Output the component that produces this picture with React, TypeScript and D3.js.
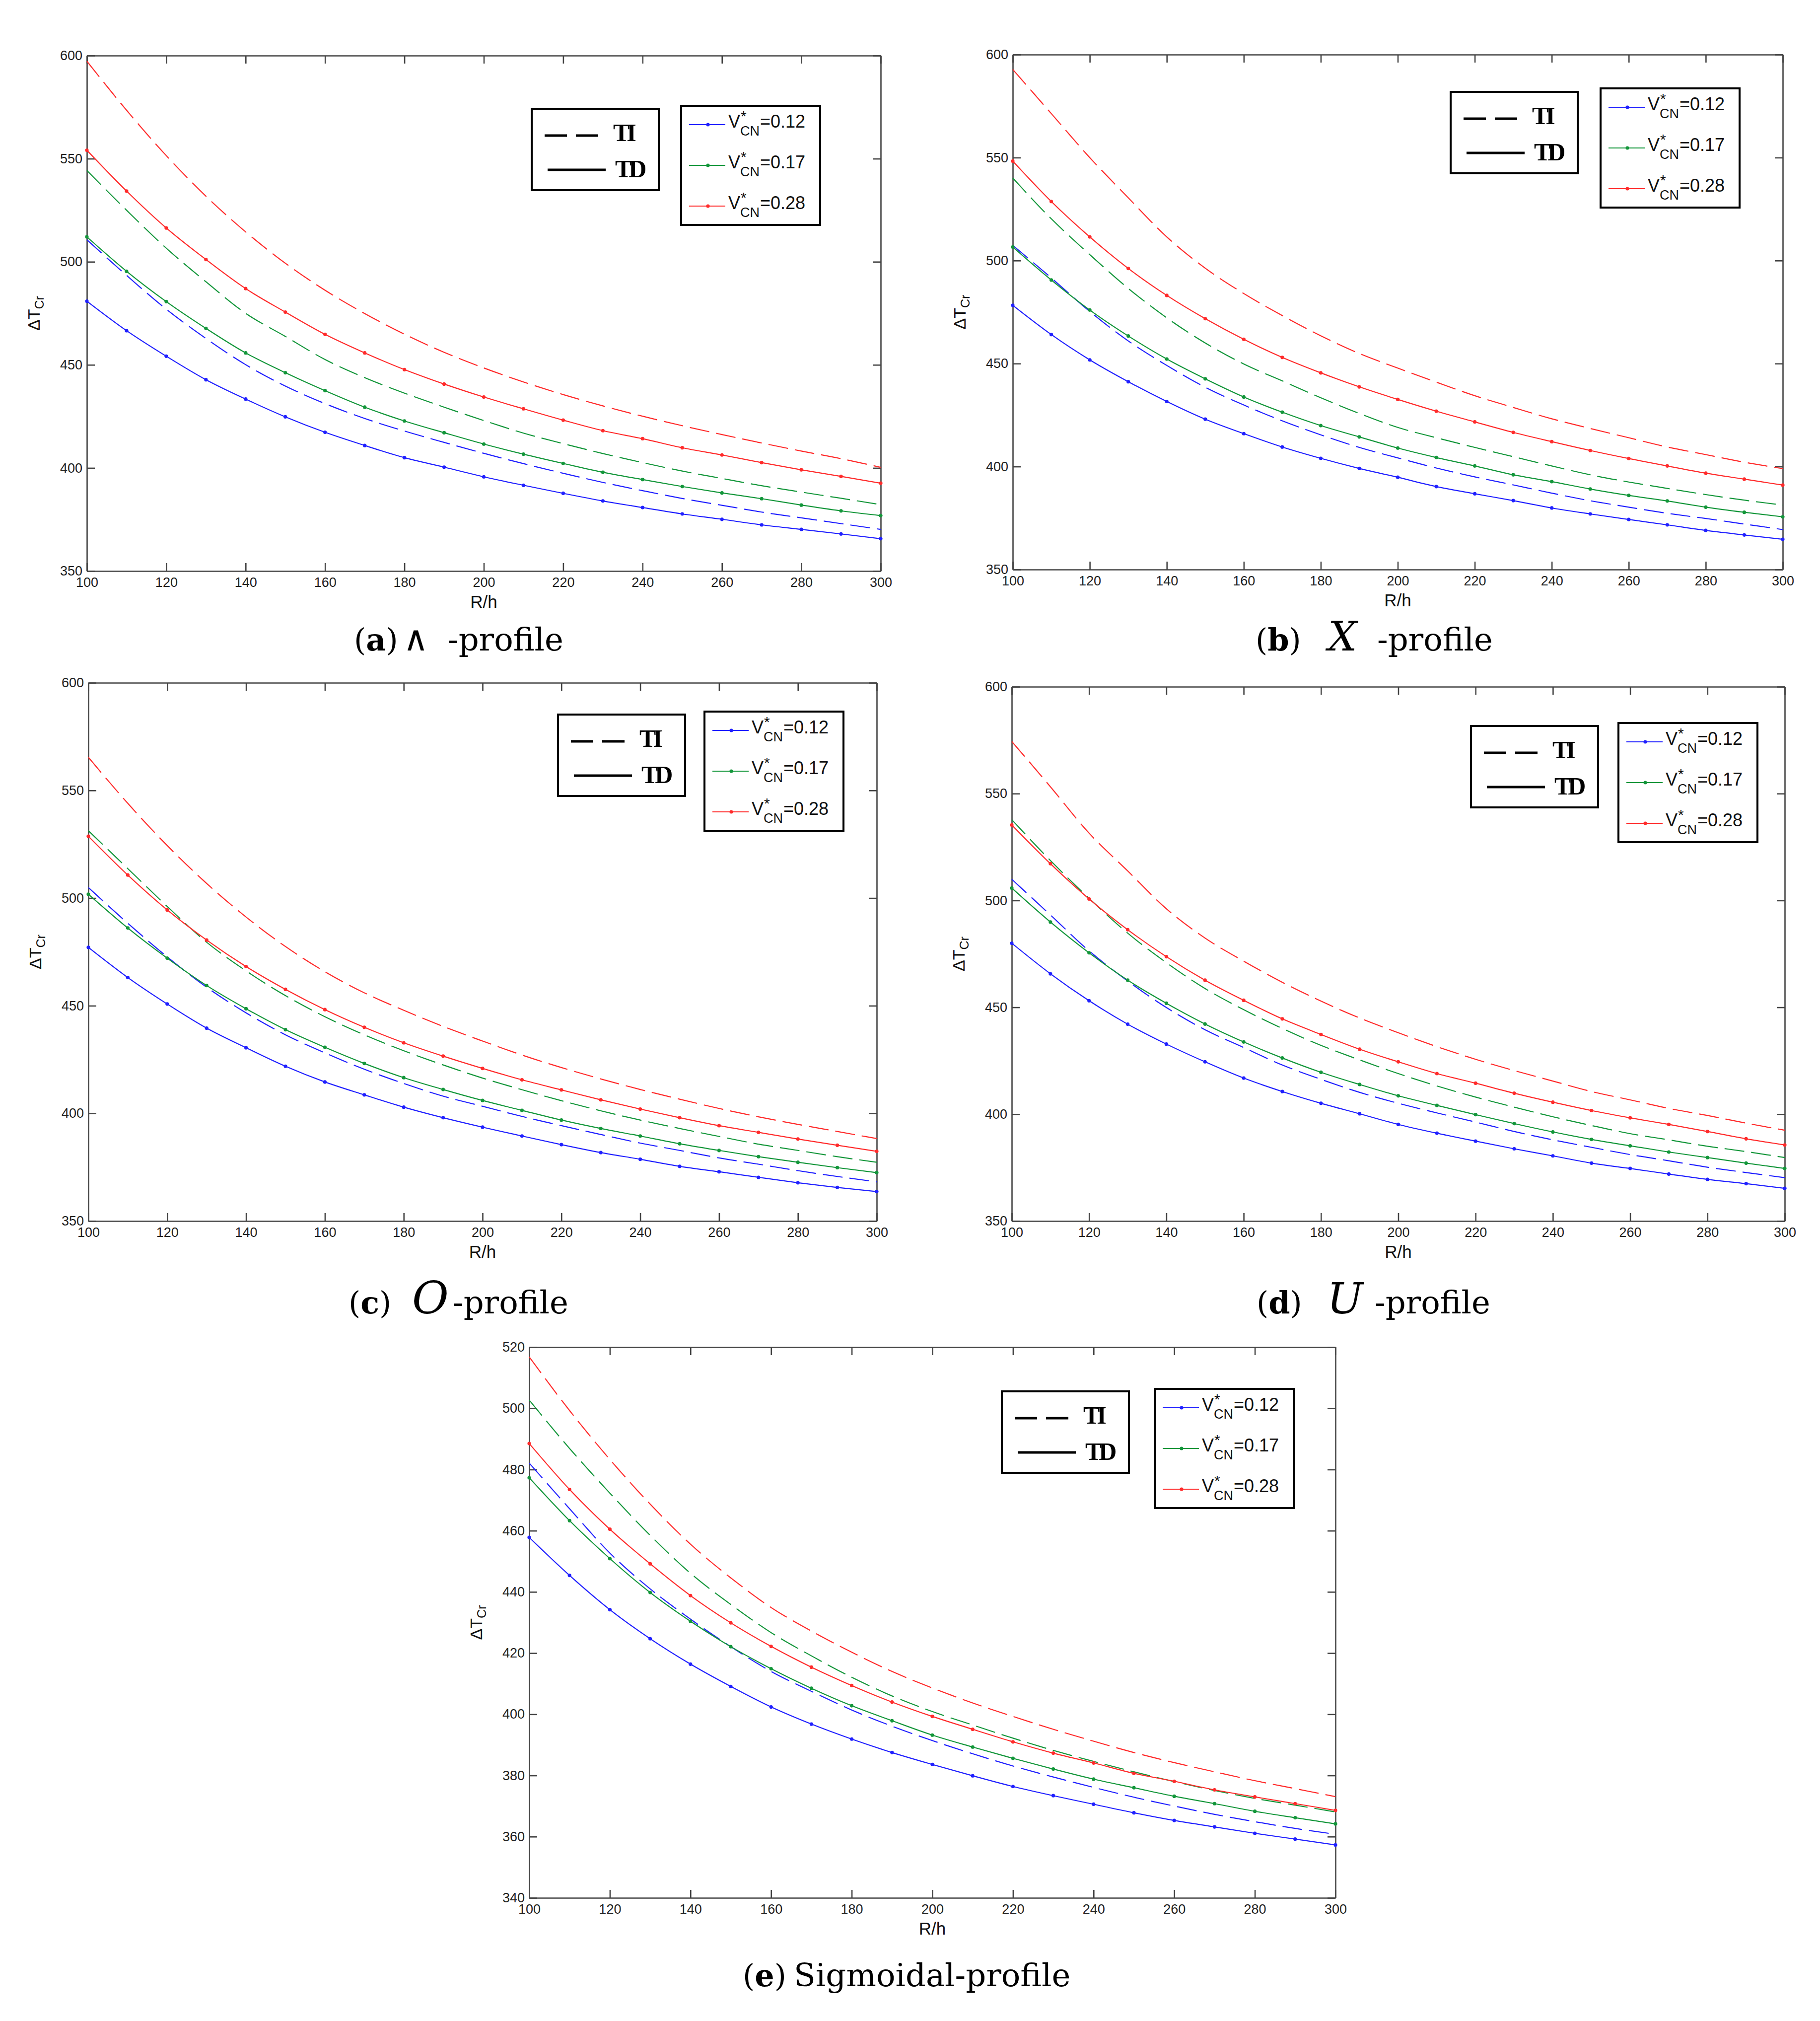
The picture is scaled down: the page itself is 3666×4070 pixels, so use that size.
import { useRef, useEffect } from "react";
import * as d3 from "d3";

const W = 3666;
const H = 4070;

// R/h sample points (TD markers sit on every one of them)
const RH = [100, 110, 120, 130, 140, 150, 160, 170, 180, 190, 200, 210, 220, 230, 240, 250, 260, 270, 280, 290, 300];
const X_TICKS = [100, 120, 140, 160, 180, 200, 220, 240, 260, 280, 300];
const Y_TICKS = [350, 400, 450, 500, 550, 600];
const Y_TICKS_SIG = [340, 360, 380, 400, 420, 440, 460, 480, 500, 520];
const V_LABELS = ["0.12", "0.17", "0.28"];
const COLORS = ["#2020ff", "#13963a", "#ff2b2b"];

// (a) lambda-profile
const lamTI12 = [510.7, 493.4, 477.0, 462.8, 450.1, 439.7, 431.2, 424.0, 417.9, 412.4, 407.1, 402.1, 397.4, 393.0, 389.0, 385.2, 381.9, 378.6, 375.8, 373.0, 370.2];
const lamTD12 = [480.9, 466.6, 454.2, 442.8, 433.4, 424.8, 417.3, 410.9, 405.0, 400.4, 395.7, 391.6, 387.7, 384.0, 380.8, 377.7, 375.1, 372.4, 370.2, 368.0, 365.7];
const lamTI17 = [544.3, 525.0, 506.6, 490.3, 475.0, 463.8, 452.6, 443.8, 436.3, 429.5, 423.0, 416.9, 411.8, 407.0, 402.6, 398.5, 394.9, 391.4, 388.3, 385.3, 382.2];
const lamTD17 = [512.1, 495.4, 480.7, 467.7, 455.8, 446.2, 437.5, 429.5, 422.8, 417.1, 411.6, 406.7, 402.2, 397.9, 394.4, 391.0, 387.9, 385.1, 382.0, 379.2, 376.9];
const lamTI28 = [597.3, 573.5, 551.5, 531.8, 514.5, 499.3, 486.2, 474.9, 464.9, 456.1, 448.5, 441.7, 435.6, 430.1, 425.1, 420.5, 416.2, 412.1, 408.2, 404.5, 400.3];
const lamTD28 = [554.1, 534.3, 516.4, 501.1, 487.0, 475.6, 464.8, 455.8, 447.7, 440.7, 434.4, 428.7, 423.2, 418.1, 414.2, 409.8, 406.3, 402.6, 399.1, 395.9, 392.6];

// (b) X-profile
const exTI12 = [507.4, 491.6, 475.3, 461.0, 449.1, 438.5, 429.9, 422.2, 415.4, 409.3, 404.2, 399.3, 395.0, 391.1, 387.1, 383.4, 380.3, 377.3, 374.8, 372.1, 369.4];
const exTD12 = [478.3, 464.1, 451.8, 441.2, 431.6, 423.0, 416.0, 409.5, 404.0, 399.1, 394.8, 390.3, 386.8, 383.5, 379.9, 377.0, 374.3, 371.7, 369.0, 366.8, 364.7];
const exTI17 = [540.1, 520.3, 502.9, 486.5, 472.2, 460.0, 449.8, 441.6, 433.4, 425.8, 419.0, 414.0, 409.3, 404.8, 400.3, 396.0, 392.5, 389.4, 386.4, 383.7, 381.3];
const exTD17 = [506.6, 490.6, 476.0, 463.4, 452.2, 442.6, 433.8, 426.4, 419.9, 414.4, 409.0, 404.4, 400.3, 396.0, 392.7, 389.1, 386.0, 383.3, 380.3, 377.8, 375.6];
const exTI28 = [592.8, 571.4, 550.0, 530.5, 511.5, 496.3, 484.0, 473.3, 463.5, 454.9, 447.8, 441.0, 434.4, 428.7, 423.2, 418.5, 414.0, 409.5, 405.8, 402.1, 399.0];
const exTD28 = [548.3, 528.7, 511.5, 496.2, 483.1, 471.8, 461.8, 453.0, 445.5, 438.7, 432.6, 426.9, 421.7, 416.6, 412.1, 407.8, 403.9, 400.3, 396.8, 393.9, 391.0];

// (c) O-profile
const ohTI12 = [504.9, 488.3, 472.7, 458.6, 446.7, 436.5, 428.1, 420.5, 413.9, 408.0, 403.3, 398.6, 394.3, 390.2, 386.2, 382.8, 379.3, 376.4, 373.4, 370.7, 368.2];
const ohTD12 = [477.1, 463.1, 450.8, 439.6, 430.5, 421.9, 414.6, 408.6, 402.9, 398.0, 393.6, 389.5, 385.5, 381.8, 378.7, 375.4, 372.9, 370.3, 367.8, 365.6, 363.7];
const ohTI17 = [531.3, 513.7, 496.1, 479.5, 466.2, 454.7, 444.9, 436.5, 429.1, 422.5, 416.4, 411.0, 405.9, 401.2, 396.9, 393.0, 389.3, 385.7, 382.8, 379.9, 377.3];
const ohTD17 = [501.8, 486.1, 472.1, 459.4, 448.6, 438.9, 430.7, 423.2, 416.6, 411.1, 406.0, 401.4, 396.9, 393.0, 389.5, 385.9, 382.8, 379.9, 377.3, 374.8, 372.5];
const ohTI28 = [565.4, 544.0, 524.4, 506.8, 491.2, 477.5, 465.8, 456.0, 447.9, 440.4, 433.6, 427.1, 421.3, 416.0, 411.1, 406.6, 402.3, 398.4, 394.9, 391.6, 388.3];
const ohTD28 = [528.7, 510.7, 494.5, 480.5, 468.2, 457.6, 448.2, 440.0, 432.8, 426.6, 420.9, 415.6, 410.9, 406.3, 402.0, 398.0, 394.3, 391.2, 388.1, 385.2, 382.4];

// (d) U-profile
const uTI12 = [509.9, 493.2, 476.4, 462.3, 449.9, 439.5, 431.2, 423.0, 416.3, 410.2, 405.1, 400.6, 396.3, 391.9, 388.0, 384.5, 381.1, 378.2, 375.2, 372.7, 370.3];
const uTD12 = [480.0, 465.7, 453.1, 442.1, 432.8, 424.5, 416.9, 410.6, 405.1, 400.2, 395.2, 391.1, 387.4, 383.8, 380.5, 377.1, 374.6, 372.0, 369.5, 367.5, 365.3];
const uTI17 = [537.8, 518.7, 501.0, 484.7, 470.9, 458.8, 448.9, 440.1, 432.2, 425.4, 419.0, 413.2, 408.0, 403.3, 398.8, 394.7, 390.9, 388.0, 385.0, 382.5, 379.7];
const uTD17 = [505.8, 489.9, 475.5, 462.7, 451.9, 442.2, 433.8, 426.3, 419.6, 413.9, 408.6, 404.1, 399.8, 395.6, 391.7, 388.2, 385.2, 382.3, 379.7, 377.1, 374.6];
const uTI28 = [574.4, 553.2, 531.5, 513.8, 496.1, 482.4, 471.6, 461.7, 452.9, 445.0, 438.1, 431.6, 425.7, 420.4, 415.5, 410.6, 406.7, 402.7, 399.4, 395.8, 392.5];
const uTD28 = [535.3, 517.2, 500.7, 486.3, 473.7, 462.7, 453.3, 444.6, 437.3, 430.4, 424.5, 419.0, 414.5, 409.8, 405.6, 401.7, 398.3, 395.2, 391.9, 388.5, 385.6];

// (e) Sigmoidal-profile
const sigTI12 = [482.1, 467.2, 452.7, 441.0, 431.1, 422.1, 414.0, 407.5, 401.4, 396.1, 391.4, 387.1, 383.1, 379.5, 376.1, 372.9, 370.0, 367.3, 364.9, 362.7, 360.8];
const sigTD12 = [457.8, 445.4, 434.2, 424.7, 416.4, 409.1, 402.4, 396.8, 391.9, 387.5, 383.6, 379.9, 376.4, 373.4, 370.6, 367.8, 365.3, 363.2, 361.1, 359.2, 357.3];
const sigTI17 = [502.7, 486.9, 472.3, 458.5, 446.1, 435.9, 426.7, 419.1, 412.1, 406.0, 400.9, 396.5, 392.2, 388.2, 384.6, 381.2, 378.0, 375.1, 372.5, 370.3, 368.1];
const sigTD17 = [477.3, 463.3, 450.9, 439.8, 430.4, 422.1, 414.9, 408.5, 402.8, 397.9, 393.2, 389.3, 385.6, 382.1, 378.8, 376.0, 373.2, 370.8, 368.3, 366.2, 364.2];
const sigTI28 = [516.8, 499.3, 483.3, 468.7, 455.6, 444.6, 434.9, 427.2, 420.3, 414.0, 408.6, 403.7, 399.3, 395.1, 391.2, 387.5, 384.2, 381.2, 378.3, 375.7, 373.1];
const sigTD28 = [488.5, 473.5, 460.5, 449.2, 438.8, 429.9, 422.2, 415.4, 409.4, 404.0, 399.3, 395.1, 391.0, 387.3, 384.1, 380.7, 378.1, 375.3, 373.0, 370.8, 368.6];

const SANS = "'Liberation Sans', Arial, sans-serif";
const SERIF = "'DejaVu Serif', serif";

const PANELS = [
  {
    left: 175, right: 1774, top: 112, bottom: 1150, yTicks: Y_TICKS,
    ti: [lamTI12, lamTI17, lamTI28], td: [lamTD12, lamTD17, lamTD28],
    tiBox: [1071, 219], vBox: [1372, 213],
    capY: 1310, letter: "a", letterX: 713, symbol: "\u2227", symX: 812, symItalic: false, symSize: 70, restX: 902, rest: "-profile",
  },
  {
    left: 2040, right: 3591, top: 110, bottom: 1147, yTicks: Y_TICKS,
    ti: [exTI12, exTI17, exTI28], td: [exTD12, exTD17, exTD28],
    tiBox: [2922, 185], vBox: [3224, 178],
    capY: 1310, letter: "b", letterX: 2529, symbol: "X", symX: 2675, symItalic: true, symSize: 82, restX: 2774, rest: "-profile",
  },
  {
    left: 178, right: 1766, top: 1375, bottom: 2459, yTicks: Y_TICKS,
    ti: [ohTI12, ohTI17, ohTI28], td: [ohTD12, ohTD17, ohTD28],
    tiBox: [1124, 1439], vBox: [1419, 1433],
    capY: 2645, letter: "c", letterX: 702, symbol: "O", symX: 830, symItalic: true, symSize: 90, restX: 912, rest: "-profile",
  },
  {
    left: 2038, right: 3595, top: 1383, bottom: 2459, yTicks: Y_TICKS,
    ti: [uTI12, uTI17, uTI28], td: [uTD12, uTD17, uTD28],
    tiBox: [2963, 1462], vBox: [3260, 1456],
    capY: 2645, letter: "d", letterX: 2531, symbol: "U", symX: 2673, symItalic: true, symSize: 86, restX: 2769, rest: "-profile",
  },
  {
    left: 1066, right: 2690, top: 2713, bottom: 3822, yTicks: Y_TICKS_SIG,
    ti: [sigTI12, sigTI17, sigTI28], td: [sigTD12, sigTD17, sigTD28],
    tiBox: [2018, 2802], vBox: [2326, 2797],
    capY: 4000, letter: "e", letterX: 1496, symbol: "", symX: 0, symItalic: false, symSize: 60, restX: 1599, rest: "Sigmoidal-profile",
  },
];

const drawPanel = (svg, p) => {
  const g = svg.append("g");
  const x = d3.scaleLinear().domain([100, 300]).range([p.left, p.right]);
  const y = d3
    .scaleLinear()
    .domain([p.yTicks[0], p.yTicks[p.yTicks.length - 1]])
    .range([p.bottom, p.top]);

  // axes box with inward ticks on all four sides
  const styleAxis = (sel) => {
    sel.selectAll("path.domain").attr("stroke", "#444").attr("stroke-width", 2.6);
    sel.selectAll(".tick line").attr("stroke", "#444").attr("stroke-width", 2.6);
    sel
      .selectAll(".tick text")
      .attr("fill", "#222")
      .style("font-family", SANS)
      .style("font-size", "27px");
  };

  g.append("g")
    .attr("transform", `translate(0,${p.bottom})`)
    .call(d3.axisBottom(x).tickValues(X_TICKS).tickSizeInner(-16).tickSizeOuter(0).tickPadding(13))
    .call(styleAxis);
  g.append("g")
    .attr("transform", `translate(0,${p.top})`)
    .call(d3.axisTop(x).tickValues(X_TICKS).tickSizeInner(-16).tickSizeOuter(0).tickFormat(() => ""))
    .call(styleAxis);
  g.append("g")
    .attr("transform", `translate(${p.left},0)`)
    .call(d3.axisLeft(y).tickValues(p.yTicks).tickSizeInner(-16).tickSizeOuter(0).tickPadding(9))
    .call(styleAxis);
  g.append("g")
    .attr("transform", `translate(${p.right},0)`)
    .call(d3.axisRight(y).tickValues(p.yTicks).tickSizeInner(-16).tickSizeOuter(0).tickFormat(() => ""))
    .call(styleAxis);

  // axis titles
  const yl = g
    .append("text")
    .attr("transform", `translate(${p.left - 95},${(p.top + p.bottom) / 2}) rotate(-90)`)
    .attr("text-anchor", "middle")
    .style("font-family", SANS)
    .style("font-size", "34px")
    .attr("fill", "#111");
  yl.append("tspan").text("\u0394T");
  yl.append("tspan").attr("dy", 8).style("font-size", "25px").text("Cr");

  g.append("text")
    .attr("x", (p.left + p.right) / 2)
    .attr("y", p.bottom + 74)
    .attr("text-anchor", "middle")
    .style("font-family", SANS)
    .style("font-size", "35px")
    .attr("fill", "#111")
    .text("R/h");

  // curves
  const line = d3
    .line()
    .x((d, i) => x(RH[i]))
    .y((d) => y(d))
    .curve(d3.curveMonotoneX);

  p.ti.forEach((vals, k) => {
    g.append("path")
      .attr("d", line(vals))
      .attr("fill", "none")
      .attr("stroke", COLORS[k])
      .attr("stroke-width", 2.2)
      .attr("stroke-dasharray", "40 14");
  });

  p.td.forEach((vals, k) => {
    g.append("path")
      .attr("d", line(vals))
      .attr("fill", "none")
      .attr("stroke", COLORS[k])
      .attr("stroke-width", 2.2);
    g.selectAll(null)
      .data(vals)
      .enter()
      .append("circle")
      .attr("cx", (d, i) => x(RH[i]))
      .attr("cy", (d) => y(d))
      .attr("r", 3.6)
      .attr("fill", COLORS[k]);
  });

  // TI / TD legend
  const [bx, by] = p.tiBox;
  g.append("rect")
    .attr("x", bx).attr("y", by).attr("width", 256).attr("height", 164)
    .attr("fill", "white").attr("stroke", "black").attr("stroke-width", 4);
  g.append("line")
    .attr("x1", bx + 26).attr("x2", bx + 135).attr("y1", by + 54).attr("y2", by + 54)
    .attr("stroke", "black").attr("stroke-width", 5).attr("stroke-dasharray", "45 18");
  g.append("line")
    .attr("x1", bx + 32).attr("x2", bx + 149).attr("y1", by + 123).attr("y2", by + 123)
    .attr("stroke", "black").attr("stroke-width", 5);
  [["TI", 164, 65], ["TD", 168, 138]].forEach(([t, dx, dy]) => {
    g.append("text")
      .attr("x", bx + dx).attr("y", by + dy)
      .style("font-family", "'Liberation Serif', serif")
      .style("font-size", "50px")
      .style("font-weight", "bold")
      .style("letter-spacing", "-6px")
      .attr("fill", "black")
      .text(t);
  });

  // V*_CN legend
  const [vx, vy] = p.vBox;
  g.append("rect")
    .attr("x", vx).attr("y", vy).attr("width", 280).attr("height", 240)
    .attr("fill", "white").attr("stroke", "black").attr("stroke-width", 4);
  V_LABELS.forEach((lab, k) => {
    const ly = vy + 38 + k * 82;
    g.append("line")
      .attr("x1", vx + 16).attr("x2", vx + 89).attr("y1", ly).attr("y2", ly)
      .attr("stroke", COLORS[k]).attr("stroke-width", 2.2);
    g.append("circle").attr("cx", vx + 54).attr("cy", ly).attr("r", 3.6).attr("fill", COLORS[k]);
    const tx = vx + 95;
    const ty = ly + 6;
    const txt = (s, xx, yy, size) =>
      g.append("text")
        .attr("x", xx).attr("y", yy)
        .style("font-family", SANS).style("font-size", `${size}px`)
        .attr("fill", "#111").text(s);
    txt("V", tx, ty, 36);
    txt("*", tx + 25, ty - 13, 30);
    txt("CN", tx + 24, ty + 16, 27);
    txt(`=${lab}`, tx + 64, ty, 36);
  });

  // caption
  const cap = g
    .append("text")
    .attr("x", p.letterX)
    .attr("y", p.capY)
    .style("font-family", SERIF)
    .style("font-size", "62px")
    .attr("fill", "black");
  cap.append("tspan").text("(");
  cap.append("tspan").style("font-weight", "bold").text(p.letter);
  cap.append("tspan").text(")");
  if (p.symbol) {
    cap.append("tspan")
      .attr("x", p.symX)
      .style("font-style", p.symItalic ? "italic" : "normal")
      .style("font-family", p.symItalic ? SERIF : "'DejaVu Sans', sans-serif")
      .style("font-size", `${p.symSize}px`)
      .text(p.symbol);
  }
  cap.append("tspan").attr("x", p.restX).style("font-size", "64px").text(p.rest);
};

const App = () => {
  const svgRef = useRef(null);

  useEffect(() => {
    const svg = d3.select(svgRef.current);
    svg.selectAll("*").remove();
    svg.append("rect").attr("width", W).attr("height", H).attr("fill", "white");
    PANELS.forEach((p) => drawPanel(svg, p));
  }, []);

  return (
    <svg
      ref={svgRef}
      width={W}
      height={H}
      style={{ position: "absolute", left: 0, top: 0, display: "block" }}
    ></svg>
  );
};

export default App;
